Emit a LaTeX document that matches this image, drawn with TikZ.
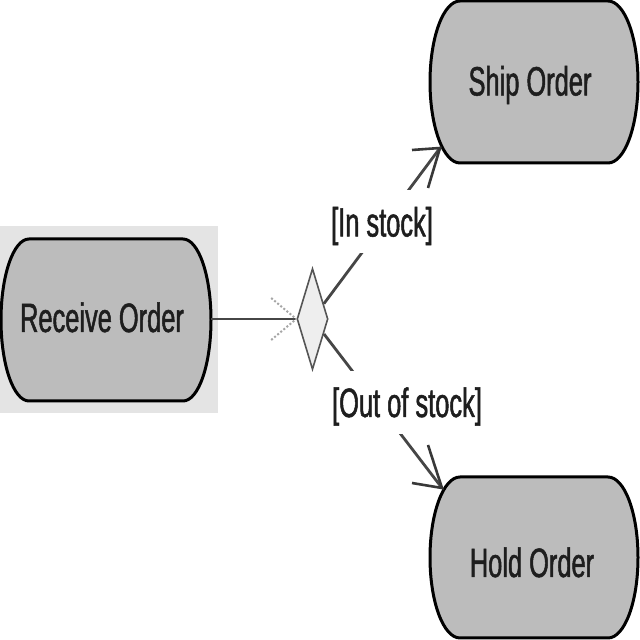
\documentclass[tikz,border=0pt]{standalone}
\usepackage{fontspec}
\newfontfamily\narrowsans[FakeStretch=0.62,FakeBold=1.2]{Liberation Sans}
\usetikzlibrary{shapes.geometric,calc}
\definecolor{boxfill}{RGB}{188,188,188}
\definecolor{bgpanel}{RGB}{228,228,228}
\definecolor{edgegray}{RGB}{70,70,70}
\definecolor{diafill}{RGB}{238,238,238}
\definecolor{diaedge}{RGB}{85,85,85}
\definecolor{inktext}{RGB}{30,30,30}
% x0, y0, x1, y1, rx, ry : box with half-elliptic ends
\newcommand{\ellbox}[6]{%
  \path[statebox] (#1+#5,#2) -- (#3-#5,#2)
    arc[start angle=-90,end angle=90,x radius=#5pt,y radius=#6pt]
    -- (#1+#5,#4)
    arc[start angle=90,end angle=270,x radius=#5pt,y radius=#6pt]
    -- cycle;}
\begin{document}
\begin{tikzpicture}[x=1pt,y=1pt,
  statetext/.style={font=\narrowsans\fontsize{41}{49}\selectfont, text=inktext,
    inner sep=0pt, text height=29pt, text depth=0pt},
  guard/.style={font=\narrowsans\fontsize{41}{49}\selectfont, text=inktext,
    fill=white, inner xsep=2pt, inner ysep=17pt, text height=29pt, text depth=0pt},
  edge/.style={draw=edgegray, line width=2.8pt},
  prong/.style={draw=edgegray!80!black, line width=2.6pt},
  dotprong/.style={draw=gray!70, line width=2pt, dotted},
  statebox/.style={fill=boxfill, draw=black, line width=3pt}]
\useasboundingbox (0,0) rectangle (640,640);
\fill[white] (0,0) rectangle (640,640);
% panel behind the first state
\fill[bgpanel] (0,227) rectangle (218,414);
% state shapes
\ellbox{1}{239}{211}{401}{28}{81}
\ellbox{430}{477}{638}{639}{30}{81}
\ellbox{430}{2}{638}{163}{30}{80.5}
% state texts
\node[statetext] (recv) at (102,322.5) {Receive Order};
\node[statetext] (ship) at (530,559) {Ship Order};
\node[statetext] (hold) at (532,77.5) {Hold Order};
% decision
\node[diamond, draw=diaedge, fill=diafill, line width=1.6pt,
  minimum width=31pt, minimum height=101pt, inner sep=0pt] (dec) at (312.5,321) {};
% connector points
\coordinate (recvE) at (211,321);
\coordinate (shiptip) at (440,492);
\coordinate (holdtip) at (442,152);
% edges
\draw[edge] (recvE) -- (dec.west);
\draw[dotprong] ($(dec.west)+(-25,21)$) -- (dec.west);
\draw[dotprong] ($(dec.west)+(-25,-21)$) -- (dec.west);
\draw[edge] (dec) -- (shiptip);
\draw[edge] (dec) -- (holdtip);
\node[guard] (instock) at (382,418) {[In stock]};
\node[guard] (outstock) at (407,237.5) {[Out of stock]};
\draw[prong] ($(shiptip)+(-28,-2)$) -- (shiptip) -- ($(shiptip)+(-12,-40)$);
\draw[prong] ($(holdtip)+(-30,5)$) -- (holdtip) -- ($(holdtip)+(-14,43)$);
\end{tikzpicture}
\end{document}
